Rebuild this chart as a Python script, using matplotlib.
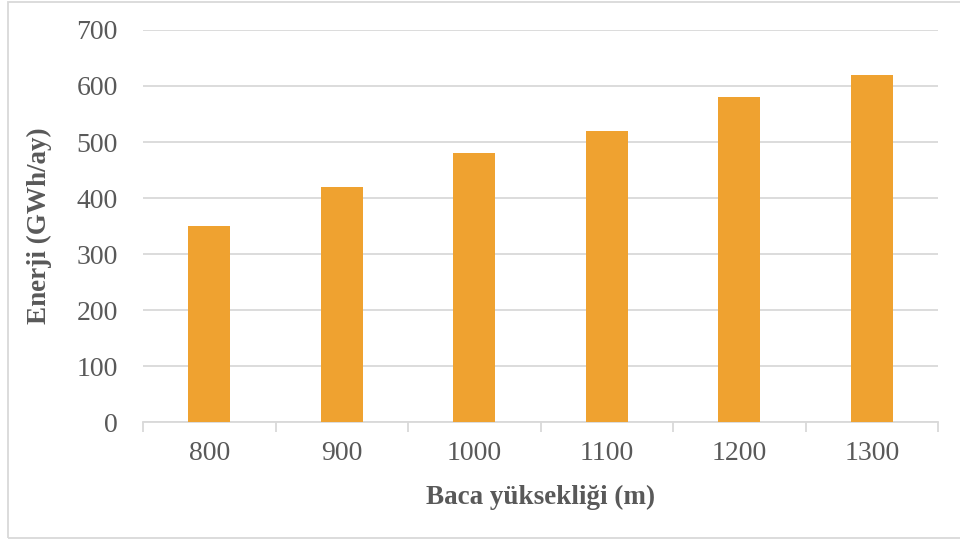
import matplotlib
matplotlib.use("Agg")
import matplotlib.pyplot as plt
from matplotlib.patches import Rectangle

heights = ["800", "900", "1000", "1100", "1200", "1300"]
energy = [350, 420, 480, 520, 580, 620]
y_ticks = [0, 100, 200, 300, 400, 500, 600, 700]

plt.rcParams["font.family"] = ["Liberation Serif", "DejaVu Serif"]
text_color = "#595959"
grid_color = "#D9D9D9"

fig = plt.figure(figsize=(9.6, 5.39), dpi=100)
ax = fig.add_axes([143 / 960, 1 - 422 / 539, (938 - 143) / 960, (422 - 30) / 539])

x = range(len(heights))
ax.bar(x, energy, width=0.32, color="#EFA230", zorder=3)

ax.set_xlim(-0.5, len(heights) - 0.5)
ax.set_ylim(0, 700)
ax.set_yticks(y_ticks)
ax.set_xticks(list(x))
ax.set_xticklabels(heights)
ax.set_xticks([i - 0.5 for i in range(len(heights) + 1)], minor=True)

ax.grid(axis="y", color=grid_color, linewidth=1.3, zorder=0)
for side in ("top", "right", "left"):
    ax.spines[side].set_visible(False)
ax.spines["bottom"].set_color(grid_color)
ax.spines["bottom"].set_linewidth(1.3)

ax.tick_params(axis="y", length=0, pad=18, labelsize=20, labelcolor=text_color)
ax.tick_params(axis="x", which="major", length=0, pad=14, labelsize=20, labelcolor=text_color)
ax.tick_params(axis="x", which="minor", length=7, width=1.3, color=grid_color)

ax.set_xlabel("Baca yüksekliği (m)", fontsize=19.5, fontweight="bold", color=text_color, labelpad=13)
ax.set_ylabel("Enerji (GWh/ay)", fontsize=19.5, fontweight="bold", color=text_color, labelpad=18)

fig.patches.append(Rectangle((8 / 960, 1 / 539), 1.2, 1 - 2.5 / 539, transform=fig.transFigure,
                             fill=False, edgecolor=grid_color, linewidth=1.3))

fig.savefig("out.png", dpi=100)
